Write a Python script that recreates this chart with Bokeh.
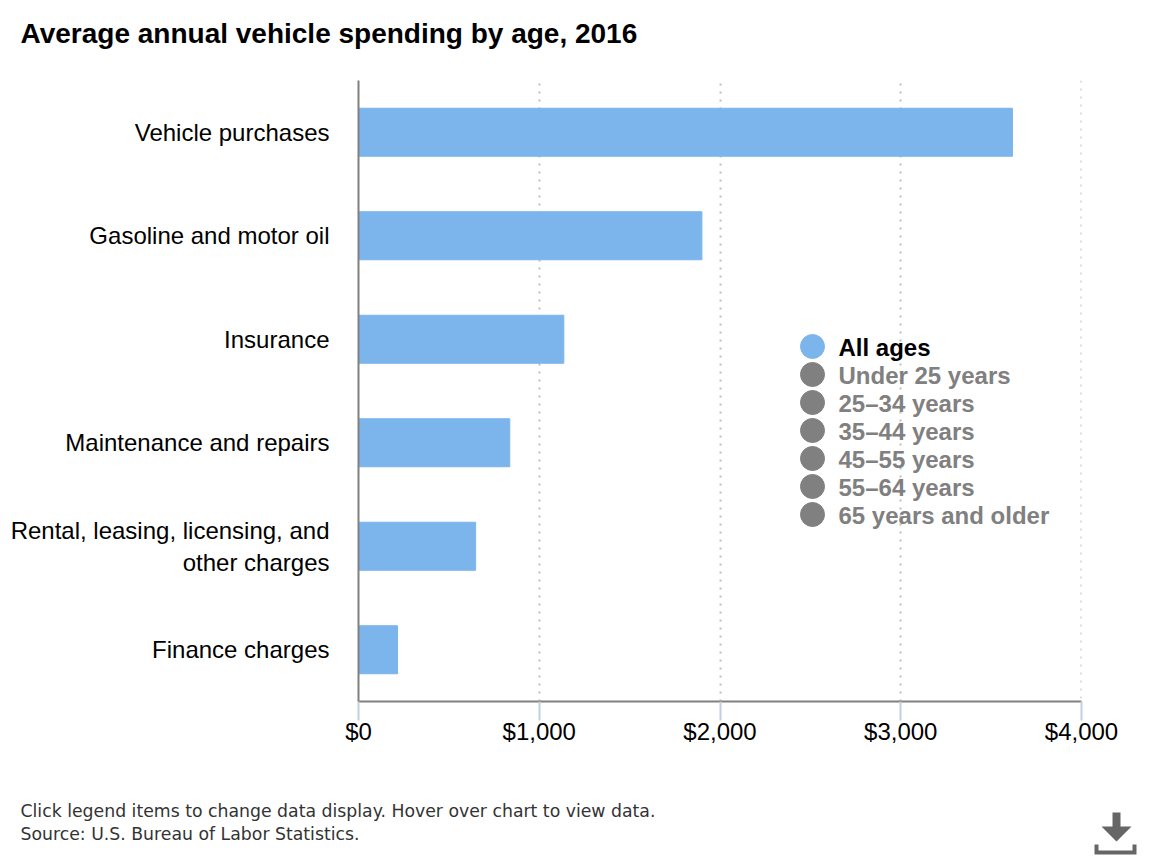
from bokeh.plotting import figure
from bokeh.layouts import column
from bokeh.models import Range1d, FactorRange, Label, NumeralTickFormatter, SingleIntervalTicker, Span
from bokeh.core.properties import value
from bokeh.embed import file_html
from bokeh.resources import INLINE

TITLE = "Average annual vehicle spending by age, 2016"
categories = ["Vehicle purchases", "Gasoline and motor oil", "Insurance", "Maintenance and repairs",
              "Rental, leasing, licensing, and\nother charges", "Finance charges"]
all_ages = [3618, 1900, 1136, 837, 648, 216]
legend_items = ["All ages", "Under 25 years", "25–34 years", "35–44 years", "45–55 years", "55–64 years", "65 years and older"]
legend_colors = ["#7cb5ec"] + ["#808080"] * 6
legend_text_colors = ["#000000"] + ["#808080"] * 6
footer = ["Click legend items to change data display. Hover over chart to view data.", "Source: U.S. Bureau of Labor Statistics."]

W = 1160
HEAD, MAIN, FOOT = 60, 730, 70
L, T, R, B = 358, 20, 79, 89
FONT = "Liberation Sans"
GRID = "#bdbdbd"

def strip(height, y0):
    """A figure whose frame fills it, in window pixels."""
    f = figure(width=W, height=height, output_backend="svg", toolbar_location=None,
               x_range=Range1d(0, W), y_range=Range1d(y0 + height, y0),
               min_border=0, outline_line_color=None, x_axis_location=None, y_axis_location=None,
               background_fill_color="white", border_fill_color="white", frame_align=False)
    f.grid.visible = False
    return f

head = strip(HEAD, 0)
head.text(x=[20], y=[33], text=[TITLE], text_font=value(FONT), text_font_size="28px", text_font_style="bold",
          text_color="black", text_baseline="middle", text_align="left")

p = figure(width=W, height=MAIN, output_backend="svg", toolbar_location=None,
           x_range=Range1d(0, 4000), y_range=FactorRange(factors=categories[::-1], range_padding=0),
           min_border_left=L, min_border_right=R, min_border_top=T, min_border_bottom=B,
           outline_line_color=None, background_fill_color="white", border_fill_color="white", frame_align=False)
p.y_range.factor_padding = 0
p.y_range.group_padding = 0
p.hbar(y=categories, right=all_ages, left=0, height=0.464, color="#7cb5ec")

ax = p.xaxis[0]
ax.ticker = SingleIntervalTicker(interval=1000, num_minor_ticks=0)
ax.formatter = NumeralTickFormatter(format="$0,0")
ax.axis_line_color = "#808080"; ax.axis_line_width = 2
ax.major_tick_line_color = "#c0d0e0"; ax.major_tick_line_width = 2
ax.major_tick_out = 19; ax.major_tick_in = 0
ax.minor_tick_line_color = None
ax.major_label_text_font = FONT; ax.major_label_text_font_size = "24px"; ax.major_label_text_color = "black"
ax.major_label_standoff = -3

ay = p.yaxis[0]
ay.axis_line_color = "#808080"; ay.axis_line_width = 2
ay.major_tick_line_color = None; ay.minor_tick_line_color = None
ay.major_label_text_font = FONT; ay.major_label_text_font_size = "24px"; ay.major_label_text_color = "black"
ay.major_label_standoff = 23

p.ygrid.visible = False
p.xgrid.grid_line_color = GRID; p.xgrid.grid_line_dash = "2 6"; p.xgrid.grid_line_width = 2
p.add_layout(Span(location=4000, dimension="height", line_color=GRID, line_dash="2 6", line_width=2))

FRAME_TOP = HEAD + T
FRAME_BOTTOM = HEAD + MAIN - B

def sx(px):  # window pixel -> frame-relative screen x
    return px - L
def sy(py):  # window pixel -> frame-relative screen y, from frame bottom
    return FRAME_BOTTOM - py
def dx(px):
    return (px - L) * 4000 / (W - L - R)
def dy(py):
    return 6 * (FRAME_BOTTOM - py) / (FRAME_BOTTOM - FRAME_TOP)

# legend
ly = [346 + 28 * i for i in range(len(legend_items))]
p.scatter(x=[dx(812)] * 7, y=[dy(v) for v in ly], size=24, color=legend_colors, marker="circle")
for name, c, y in zip(legend_items, legend_text_colors, ly):
    p.add_layout(Label(x=sx(838), y=sy(y + 1), x_units="screen", y_units="screen", text=name, text_font=FONT,
                       text_font_size="24px", text_color=c, text_font_style="bold",
                       text_baseline="middle", text_align="left"))

foot = strip(FOOT, HEAD + MAIN)
foot.text(x=[20, 20], y=[810, 833], text=footer, text_font=value("DejaVu Sans"), text_font_size="17.3px",
          text_color="#333333", text_baseline="middle", text_align="left")
# download icon
foot.patch(x=[1112, 1120, 1120, 1131, 1116, 1101, 1112], y=[812, 812, 826, 826, 841, 826, 826],
           color="#666666", line_color=None)
foot.patch(x=[1094, 1098, 1098, 1132, 1132, 1136, 1136, 1094], y=[844, 844, 850, 850, 844, 844, 854, 854],
           color="#666666", line_color=None)

open("out.html", "w").write(file_html(column(head, p, foot, spacing=0), INLINE))
